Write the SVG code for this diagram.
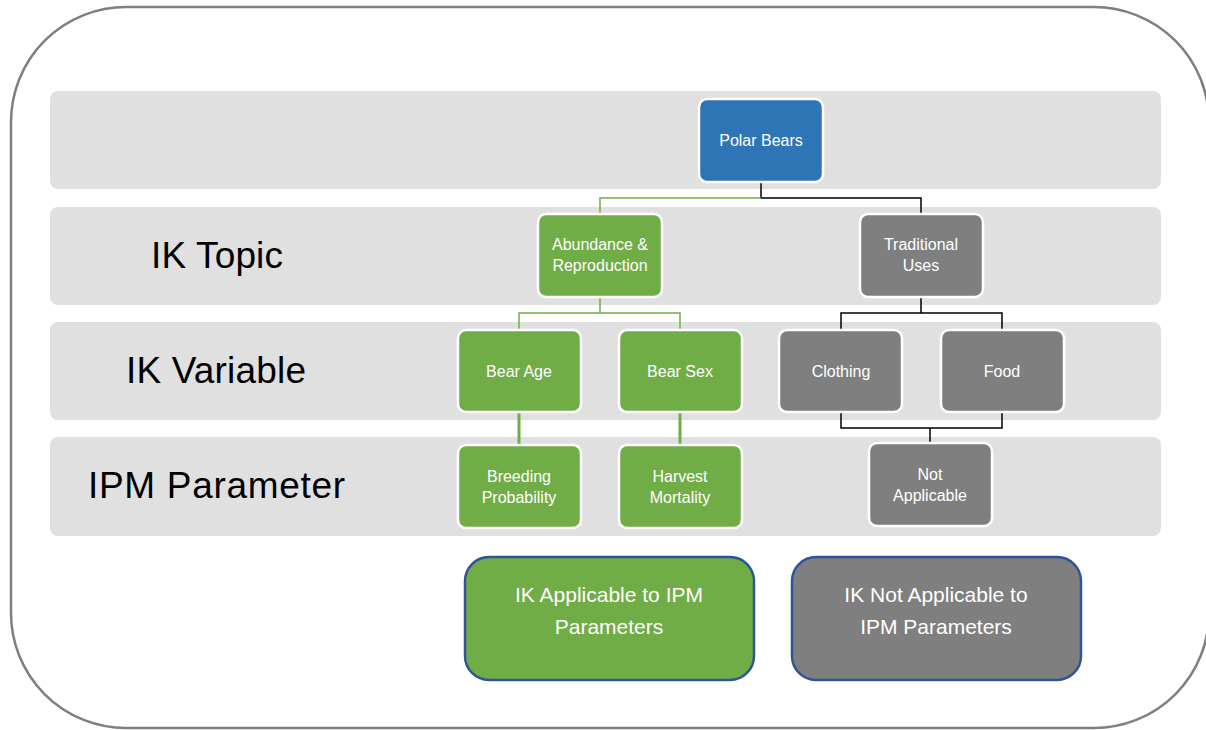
<svg xmlns="http://www.w3.org/2000/svg" width="1206" height="730" viewBox="0 0 1206 730">
  <style>
    .band { fill: #E0E0E0; }
    .node rect { stroke: #FFFFFF; stroke-width: 2.5; }
    .green rect { fill: #70AD47; }
    .gray rect { fill: #7F7F7F; }
    .blue rect { fill: #2E75B6; }
    .node text { font-family: "Liberation Sans", Arial, sans-serif; font-size: 16px; fill: #FFFFFF; text-anchor: middle; }
    .lvl { font-family: "Liberation Sans", Arial, sans-serif; font-size: 37px; fill: #000000; }
    .legend rect { stroke: #2F5597; stroke-width: 2.5; }
    .legend text { font-family: "Liberation Sans", Arial, sans-serif; font-size: 21px; fill: #FFFFFF; text-anchor: middle; }
    .cg { stroke: #70AD47; stroke-width: 1.5; fill: none; }
    .cg3 { stroke: #70AD47; stroke-width: 3; fill: none; }
    .ck { stroke: #000000; stroke-width: 1.5; fill: none; }
  </style>

  <rect width="1206" height="730" fill="#FFFFFF"/>
  <!-- outer frame -->
  <rect x="11" y="7" width="1198" height="721" rx="115" ry="115" fill="none" stroke="#7F7F7F" stroke-width="2.5"/>

  <!-- level bands -->
  <g id="bands">
    <rect class="band" x="50" y="91" width="1111" height="98" rx="8"/>
    <rect class="band" x="50" y="207" width="1111" height="98" rx="8"/>
    <rect class="band" x="50" y="322" width="1111" height="98" rx="8"/>
    <rect class="band" x="50" y="437" width="1111" height="99" rx="8"/>
  </g>

  <g id="level-labels">
    <text class="lvl" x="151" y="268" textLength="132">IK Topic</text>
    <text class="lvl" x="126" y="383" textLength="180">IK Variable</text>
    <text class="lvl" x="88" y="498" textLength="257">IPM Parameter</text>
  </g>

  <!-- connectors -->
  <g id="connectors">
    <path class="ck" d="M761,182 V198 H921 V214"/>
    <path class="cg" d="M761,198 H600 V214"/>
    <path class="cg" d="M600,297 V313 M519,330 V313 H680 V330"/>
    <path class="ck" d="M921,297 V313 M841,330 V313 H1002 V330"/>
    <path class="ck" d="M841,412 V428 H1002 V412 M930,428 V443"/>
    <path class="cg3" d="M519,412 V445 M680,412 V445"/>
  </g>

  <!-- nodes -->
  <g id="polar-bears" class="node blue">
    <rect x="699" y="99" width="124" height="83" rx="8"/>
    <text x="761" y="146">Polar Bears</text>
  </g>
  <g id="abundance-reproduction" class="node green">
    <rect x="538" y="214" width="124" height="83" rx="8"/>
    <text x="600" y="250">Abundance &amp;</text>
    <text x="600" y="271">Reproduction</text>
  </g>
  <g id="traditional-uses" class="node gray">
    <rect x="860" y="214" width="123" height="83" rx="8"/>
    <text x="921" y="250">Traditional</text>
    <text x="921" y="271">Uses</text>
  </g>
  <g id="bear-age" class="node green">
    <rect x="458" y="330" width="123" height="82" rx="8"/>
    <text x="519" y="377">Bear Age</text>
  </g>
  <g id="bear-sex" class="node green">
    <rect x="619" y="330" width="123" height="82" rx="8"/>
    <text x="680" y="377">Bear Sex</text>
  </g>
  <g id="clothing" class="node gray">
    <rect x="779" y="330" width="123" height="82" rx="8"/>
    <text x="841" y="377">Clothing</text>
  </g>
  <g id="food" class="node gray">
    <rect x="941" y="330" width="123" height="82" rx="8"/>
    <text x="1002" y="377">Food</text>
  </g>
  <g id="breeding-probability" class="node green">
    <rect x="458" y="445" width="123" height="83" rx="8"/>
    <text x="519" y="482">Breeding</text>
    <text x="519" y="503">Probability</text>
  </g>
  <g id="harvest-mortality" class="node green">
    <rect x="619" y="445" width="123" height="83" rx="8"/>
    <text x="680" y="482">Harvest</text>
    <text x="680" y="503">Mortality</text>
  </g>
  <g id="not-applicable" class="node gray">
    <rect x="869" y="443" width="123" height="83" rx="8"/>
    <text x="930" y="480">Not</text>
    <text x="930" y="501">Applicable</text>
  </g>

  <!-- legend -->
  <g id="legend-applicable" class="legend green">
    <rect x="465" y="557" width="289" height="123" rx="24"/>
    <text x="609" y="602">IK Applicable to IPM</text>
    <text x="609" y="634">Parameters</text>
  </g>
  <g id="legend-not-applicable" class="legend gray">
    <rect x="792" y="557" width="289" height="123" rx="24"/>
    <text x="936" y="602">IK Not Applicable to</text>
    <text x="936" y="634">IPM Parameters</text>
  </g>
</svg>
